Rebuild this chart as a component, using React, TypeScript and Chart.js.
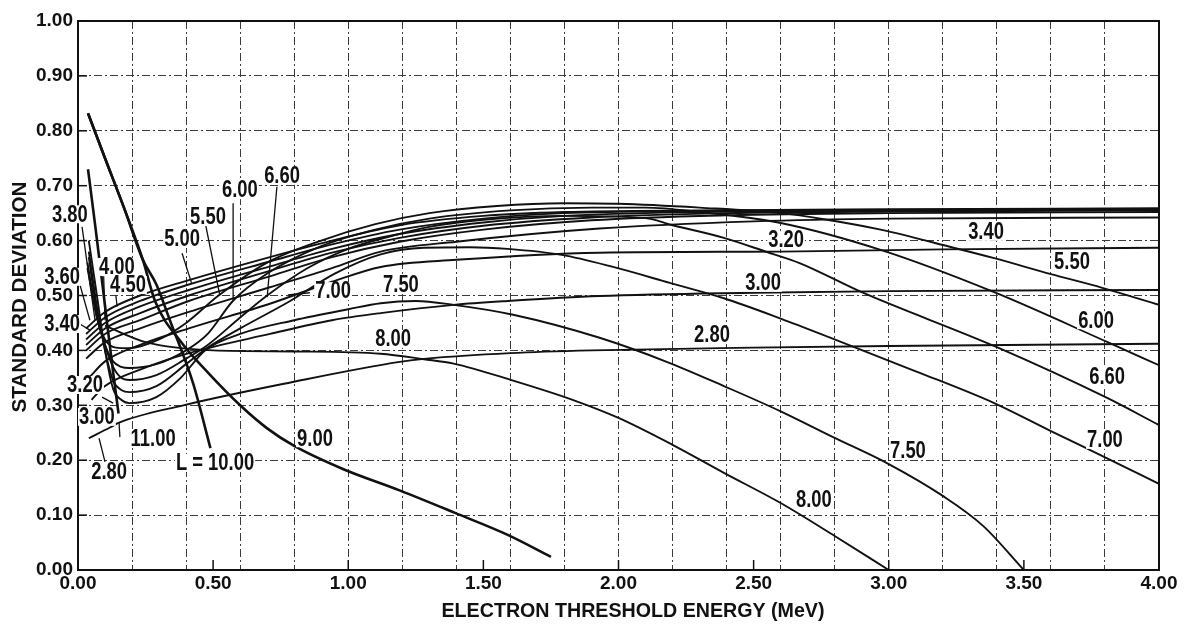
import React, { useEffect, useRef } from "react";
import { Chart, registerables } from "chart.js";

Chart.register(...registerables);

// ---- series: [electron threshold energy (MeV), standard deviation] ----
const L_2_80 = [[0.04,0.24],[0.12,0.26],[0.15,0.268],[0.39,0.30],[0.79,0.342],[1.19,0.379],[1.29,0.385],[1.6,0.395],[1.9,0.40],[2.5,0.405],[3.0,0.408],[4.0,0.412]];
const L_3_00 = [[0.05,0.31],[0.1,0.335],[0.23,0.365],[0.41,0.395],[0.71,0.43],[0.94,0.455],[1.12,0.468],[1.39,0.483],[1.59,0.49],[1.93,0.499],[2.5,0.505],[3.0,0.508],[4.0,0.51]];
const L_3_20 = [[0.04,0.35],[0.1,0.38],[0.23,0.41],[0.41,0.44],[0.71,0.485],[0.94,0.525],[1.12,0.552],[1.4,0.565],[1.93,0.578],[2.6,0.58],[3.2,0.584],[4.0,0.587]];
const L_3_40 = [[0.03,0.385],[0.1,0.415],[0.23,0.44],[0.41,0.47],[0.71,0.515],[0.94,0.55],[1.12,0.58],[1.4,0.598],[1.93,0.622],[2.5,0.635],[3.0,0.64],[4.0,0.642]];
const L_3_60 = [[0.03,0.40],[0.1,0.43],[0.23,0.455],[0.41,0.49],[0.71,0.535],[0.94,0.57],[1.19,0.598],[1.5,0.62],[1.9,0.637],[2.4,0.646],[3.0,0.65],[4.0,0.652]];
const L_3_80 = [[0.03,0.41],[0.1,0.44],[0.23,0.468],[0.41,0.50],[0.71,0.545],[0.94,0.578],[1.19,0.605],[1.5,0.627],[1.9,0.642],[2.4,0.65],[3.0,0.653],[4.0,0.655]];
const L_4_00 = [[0.03,0.42],[0.1,0.45],[0.23,0.48],[0.41,0.51],[0.71,0.553],[0.94,0.585],[1.19,0.612],[1.5,0.633],[1.8,0.645],[2.3,0.652],[3.0,0.655],[4.0,0.656]];
const L_4_50 = [[0.03,0.43],[0.1,0.46],[0.23,0.49],[0.41,0.52],[0.71,0.562],[0.94,0.593],[1.19,0.62],[1.5,0.64],[1.8,0.65],[2.3,0.654],[3.0,0.656],[4.0,0.657]];
const L_5_00 = [[0.03,0.44],[0.1,0.47],[0.23,0.50],[0.41,0.528],[0.71,0.57],[0.94,0.60],[1.19,0.628],[1.5,0.645],[1.8,0.652],[2.3,0.655],[3.0,0.657],[4.0,0.659]];
const L_5_50 = [[0.035,0.55],[0.07,0.46],[0.1,0.42],[0.14,0.405],[0.19,0.404],[0.3,0.42],[0.4,0.45],[0.52,0.50],[0.7,0.56],[0.9,0.60],[1.1,0.63],[1.3,0.65],[1.55,0.663],[1.8,0.668],[2.0,0.667],[2.3,0.66],[2.6,0.65],[2.76,0.639],[2.97,0.62],[3.24,0.587],[3.39,0.568],[3.6,0.539],[3.79,0.514],[4.0,0.483]];
const L_6_00 = [[0.035,0.56],[0.07,0.46],[0.1,0.41],[0.13,0.38],[0.16,0.37],[0.19,0.368],[0.29,0.375],[0.4,0.40],[0.48,0.43],[0.573,0.49],[0.7,0.54],[0.9,0.59],[1.1,0.62],[1.3,0.64],[1.6,0.655],[1.9,0.66],[2.1,0.66],[2.3,0.652],[2.6,0.632],[2.97,0.583],[3.39,0.506],[3.81,0.415],[4.0,0.373]];
const L_6_60 = [[0.04,0.57],[0.07,0.47],[0.1,0.41],[0.13,0.37],[0.16,0.35],[0.19,0.346],[0.29,0.355],[0.4,0.385],[0.48,0.41],[0.6,0.46],[0.70,0.50],[0.85,0.55],[1.0,0.585],[1.15,0.607],[1.3,0.625],[1.5,0.638],[1.8,0.645],[2.1,0.641],[2.2,0.628],[2.39,0.605],[2.55,0.579],[2.67,0.559],[2.9,0.506],[3.4,0.406],[3.81,0.313],[4.0,0.264]];
const L_7_00 = [[0.04,0.58],[0.07,0.48],[0.1,0.40],[0.13,0.345],[0.16,0.328],[0.19,0.324],[0.29,0.335],[0.4,0.375],[0.48,0.405],[0.6,0.44],[0.785,0.49],[0.95,0.54],[1.12,0.575],[1.28,0.587],[1.45,0.588],[1.59,0.585],[1.79,0.574],[1.98,0.552],[2.19,0.523],[2.39,0.495],[2.6,0.458],[2.79,0.422],[3.1,0.362],[3.39,0.304],[3.6,0.253],[3.81,0.203],[4.0,0.157]];
const L_7_50 = [[0.04,0.60],[0.07,0.50],[0.1,0.40],[0.13,0.33],[0.16,0.31],[0.19,0.304],[0.29,0.315],[0.38,0.35],[0.47,0.40],[0.6,0.43],[0.8,0.455],[1.0,0.475],[1.12,0.486],[1.25,0.49],[1.39,0.483],[1.61,0.465],[1.93,0.423],[2.19,0.377],[2.39,0.335],[2.6,0.289],[2.79,0.243],[3.0,0.193],[3.2,0.135],[3.35,0.08],[3.5,0.0]];
const L_8_00 = [[0.1,0.445],[0.25,0.415],[0.5,0.40],[0.8,0.398],[1.12,0.394],[1.28,0.384],[1.39,0.376],[1.61,0.345],[1.83,0.31],[2.0,0.277],[2.2,0.228],[2.39,0.177],[2.6,0.122],[2.8,0.062],[3.0,0.0]];
const L_9_00 = [[0.037,0.832],[0.1,0.75],[0.17,0.66],[0.24,0.565],[0.285,0.49],[0.385,0.413],[0.48,0.36],[0.6,0.30],[0.7,0.258],[0.8,0.226],[0.98,0.184],[1.19,0.145],[1.395,0.104],[1.59,0.064],[1.75,0.024]];
const L_10_00 = [[0.037,0.832],[0.1,0.75],[0.17,0.66],[0.24,0.565],[0.29,0.52],[0.34,0.455],[0.426,0.34],[0.49,0.222]];
const L_11_00 = [[0.037,0.73],[0.063,0.63],[0.093,0.51],[0.11,0.44],[0.13,0.36],[0.15,0.285]];

const SERIES_NAMES = ["2.80","3.00","3.20","3.40","3.60","3.80","4.00","4.50","5.00","5.50","6.00","6.60","7.00","7.50","8.00","9.00","10.00","11.00"];
const SERIES_POINTS = [L_2_80,L_3_00,L_3_20,L_3_40,L_3_60,L_3_80,L_4_00,L_4_50,L_5_00,L_5_50,L_6_00,L_6_60,L_7_00,L_7_50,L_8_00,L_9_00,L_10_00,L_11_00];

// ---- axes ----
const X_TICK_LABELS = [0, 0.5, 1, 1.5, 2, 2.5, 3, 3.5, 4];
const X_GRID = [0.2,0.4,0.6,0.8,1.0,1.2,1.4,1.6,1.8,2.0,2.2,2.4,2.6,2.8,3.0,3.2,3.4,3.6,3.8];
const Y_TICKS = [0,0.1,0.2,0.3,0.4,0.5,0.6,0.7,0.8,0.9,1.0];

// ---- curve labels [text, x, y] (data coordinates) ----
const CURVE_LABELS: [string, number, number][] = [
  ["3.80",-0.03,0.648],["3.60",-0.059,0.534],["3.40",-0.059,0.448],["3.20",0.026,0.337],
  ["3.00",0.07,0.279],["2.80",0.115,0.18],["11.00",0.278,0.239],["L = 10.00",0.507,0.195],
  ["9.00",0.877,0.24],["8.00",1.166,0.421],["7.50",1.195,0.519],["7.00",0.944,0.508],
  ["6.60",0.755,0.718],["6.00",0.599,0.692],["5.50",0.481,0.643],["5.00",0.385,0.603],
  ["4.00",0.144,0.552],["4.50",0.185,0.519],
  ["3.20",2.62,0.601],["3.00",2.535,0.523],["2.80",2.346,0.428],["3.40",3.36,0.616],
  ["5.50",3.678,0.561],["6.00",3.767,0.455],["6.60",3.808,0.352],["7.00",3.80,0.237],
  ["7.50",3.071,0.217],["8.00",2.723,0.128],
];

// ---- leader lines [x1, y1, x2, y2] (data coordinates) ----
const LEADERS: [number, number, number, number][] = [
  [0.015,0.625,0.063,0.455],[0.0,0.532,0.044,0.455],[0.007,0.448,0.044,0.437],
  [0.095,0.535,0.1,0.455],[0.14,0.50,0.145,0.48],[0.385,0.577,0.42,0.523],
  [0.47,0.634,0.525,0.50],[0.574,0.668,0.574,0.492],[0.736,0.698,0.70,0.497],
  [0.858,0.505,0.777,0.501],[0.089,0.315,0.13,0.304],[0.1,0.197,0.078,0.24],
  [0.152,0.268,0.155,0.242],
];

const X_TITLE = "ELECTRON THRESHOLD ENERGY (MeV)";
const Y_TITLE = "STANDARD DEVIATION";
const INK = "#111";
const FONT = "'Liberation Sans', Arial, sans-serif";

const decorPlugin = {
  id: "decor",
  afterDraw(chart: any) {
    const { ctx, chartArea: a, scales } = chart;
    const xs = scales.x, ys = scales.y;
    const seg = (x1: number, y1: number, x2: number, y2: number) => {
      ctx.beginPath(); ctx.moveTo(x1, y1); ctx.lineTo(x2, y2); ctx.stroke();
    };
    ctx.save();
    ctx.strokeStyle = INK;
    // frame
    ctx.lineWidth = 2;
    ctx.strokeRect(a.left, a.top, a.right - a.left, a.bottom - a.top);
    // inward tick marks
    ctx.lineWidth = 1.5;
    for (const v of X_TICK_LABELS) {
      const px = xs.getPixelForValue(v);
      seg(px, a.bottom, px, a.bottom - 10);
    }
    for (const v of Y_TICKS) {
      const py = ys.getPixelForValue(v);
      seg(a.left, py, a.left + 9, py);
    }
    // leaders
    ctx.lineWidth = 1.3;
    for (const [x1, y1, x2, y2] of LEADERS) {
      seg(xs.getPixelForValue(x1), ys.getPixelForValue(y1), xs.getPixelForValue(x2), ys.getPixelForValue(y2));
    }
    // curve labels
    const sx = 0.8;
    ctx.font = `bold 23px ${FONT}`;
    ctx.textAlign = "center";
    ctx.textBaseline = "middle";
    for (const [t, vx, vy] of CURVE_LABELS) {
      const px = xs.getPixelForValue(vx), py = ys.getPixelForValue(vy);
      const w = ctx.measureText(t).width * sx;
      ctx.fillStyle = "#fff";
      ctx.fillRect(px - w / 2 - 1, py - 9, w + 2, 18);
      ctx.fillStyle = INK;
      ctx.save();
      ctx.translate(px, py + 1);
      ctx.scale(sx, 1);
      ctx.fillText(t, 0, 0);
      ctx.restore();
    }
    // axis titles
    ctx.font = `bold 21px ${FONT}`;
    ctx.fillStyle = INK;
    const xw = ctx.measureText(X_TITLE).width;
    ctx.save();
    ctx.translate(633, 611);
    ctx.scale(383 / xw, 1);
    ctx.fillText(X_TITLE, 0, 0);
    ctx.restore();
    const yw = ctx.measureText(Y_TITLE).width;
    ctx.save();
    ctx.translate(20, 297);
    ctx.rotate(-Math.PI / 2);
    ctx.scale(231 / yw, 1);
    ctx.fillText(Y_TITLE, 0, 0);
    ctx.restore();
    ctx.restore();
  },
};

const near = (v: number, arr: number[]) => arr.some((a) => Math.abs(a - v) < 1e-6);

export default function App() {
  const ref = useRef<HTMLCanvasElement | null>(null);
  useEffect(() => {
    if (!ref.current) return;
    const tickValues = Array.from(new Set([...X_TICK_LABELS, ...X_GRID])).sort((p, q) => p - q);
    const chart = new Chart(ref.current, {
      type: "line",
      data: {
        datasets: SERIES_POINTS.map((pts, i) => ({
          label: SERIES_NAMES[i],
          data: pts.map(([x, y]) => ({ x, y })),
          borderColor: INK,
          borderWidth: i >= 15 ? 2.6 : 1.9,
          pointRadius: 0,
          fill: false,
          cubicInterpolationMode: "monotone" as const,
        })),
      },
      options: {
        responsive: false,
        animation: false,
        layout: { padding: { left: 0, right: 29, top: 21, bottom: 0 } },
        plugins: { legend: { display: false }, tooltip: { enabled: false } },
        scales: {
          x: {
            type: "linear",
            min: 0,
            max: 4,
            afterBuildTicks: (s: any) => { s.ticks = tickValues.map((value) => ({ value })); },
            afterFit: (s: any) => { s.height = 56; },
            ticks: {
              autoSkip: false,
              maxRotation: 0,
              padding: 2,
              color: INK,
              font: { family: FONT, size: 19, weight: "bold" },
              callback: (v: any) => (near(Number(v), X_TICK_LABELS) ? Number(v).toFixed(2) : ""),
            },
            grid: {
              drawTicks: false,
              lineWidth: 1,
              color: (c: any) => (near(c.tick?.value, X_GRID) ? "#3a3a3a" : "rgba(0,0,0,0)"),
            },
            border: { display: false, dash: [8, 3, 2, 3] },
          },
          y: {
            type: "linear",
            min: 0,
            max: 1,
            afterBuildTicks: (s: any) => { s.ticks = Y_TICKS.map((value) => ({ value })); },
            afterFit: (s: any) => { s.width = 78; },
            ticks: {
              padding: 5,
              color: INK,
              font: { family: FONT, size: 19, weight: "bold" },
              callback: (v: any) => Number(v).toFixed(2),
            },
            grid: {
              drawTicks: false,
              lineWidth: 1,
              color: (c: any) => (c.tick && c.tick.value > 0.05 && c.tick.value < 0.95 ? "#3a3a3a" : "rgba(0,0,0,0)"),
            },
            border: { display: false, dash: [8, 3, 2, 3] },
          },
        },
      },
      plugins: [decorPlugin],
    } as any);
    return () => chart.destroy();
  }, []);
  return (
    <div style={{ position: "fixed", left: 0, top: 0, width: 1188, height: 626, background: "#fff" }}>
      <canvas ref={ref} width={1188} height={626} />
    </div>
  );
}
